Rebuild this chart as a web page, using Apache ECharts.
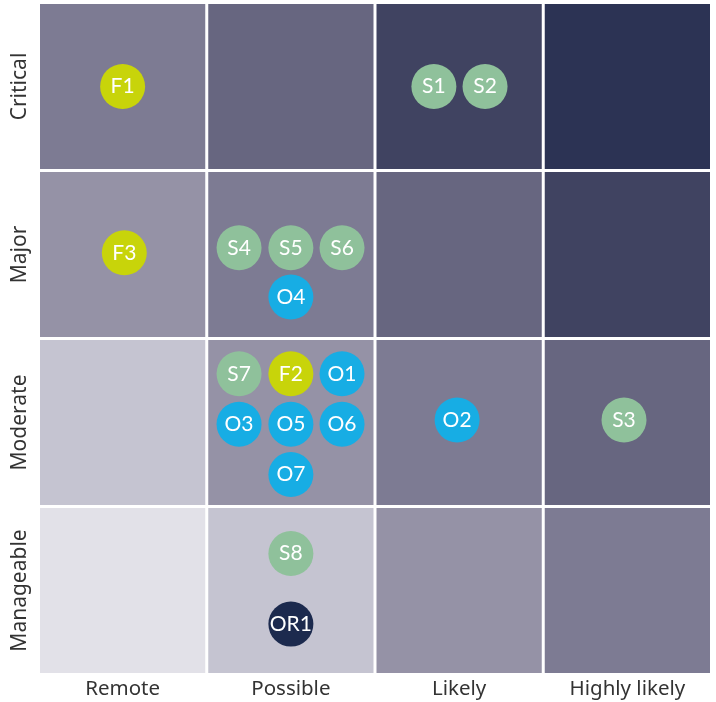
<!DOCTYPE html>
<html>
<head>
<meta charset="utf-8">
<script src="https://cdn.jsdelivr.net/npm/echarts@6/dist/echarts.min.js"></script>
<style>html,body{margin:0;padding:0;background:#fff}#c{width:716px;height:702px}</style>
</head>
<body>
<div id="c"></div>
<script>
const likelihood = ['Remote', 'Possible', 'Likely', 'Highly likely'];
const impact = ['Manageable', 'Moderate', 'Major', 'Critical'];
// cell shade level per [likelihood index, impact index]
const shades = ['#e2e1e8', '#c5c4d1', '#9592a6', '#7d7b93', '#676680', '#404361', '#2c3354'];
const cellLevels = [
  [0, 0, 0], [1, 0, 1], [2, 0, 2], [3, 0, 3],
  [0, 1, 1], [1, 1, 2], [2, 1, 3], [3, 1, 4],
  [0, 2, 2], [1, 2, 3], [2, 2, 4], [3, 2, 5],
  [0, 3, 3], [1, 3, 4], [2, 3, 5], [3, 3, 6]
];
// risks: [x, y, label]
const strategic = [
  [2.35, 3.5, 'S1'], [2.654, 3.5, 'S2'], [3.48, 1.515, 'S3'],
  [1.192, 2.54, 'S4'], [1.5, 2.54, 'S5'], [1.804, 2.54, 'S6'],
  [1.192, 1.79, 'S7'], [1.5, 0.72, 'S8']
];
const financial = [[0.5, 3.5, 'F1'], [1.5, 1.79, 'F2'], [0.51, 2.51, 'F3']];
const operational = [
  [1.804, 1.79, 'O1'], [2.488, 1.515, 'O2'], [1.192, 1.49, 'O3'],
  [1.5, 2.247, 'O4'], [1.5, 1.49, 'O5'], [1.804, 1.49, 'O6'], [1.5, 1.19, 'O7']
];
const other = [[1.5, 0.3, 'OR1']];

const labelStyle = {
  show: true, formatter: p => p.data[2], color: '#fff',
  fontSize: 21, fontFamily: 'Lato, "Noto Sans", sans-serif'
};
function pts(name, data, color) {
  return {
    name, type: 'scatter', xAxisIndex: 1, yAxisIndex: 1, data,
    symbolSize: 45, itemStyle: { color, opacity: 1 }, label: labelStyle, z: 5
  };
}
const chart = echarts.init(document.getElementById('c'));
chart.setOption({
  animation: false,
  grid: { left: 38.5, right: 4.5, top: 2.5, bottom: 27.5 },
  xAxis: [
    { type: 'category', data: likelihood, axisLine: { show: false }, axisTick: { show: false },
      axisLabel: { color: '#333', fontSize: 20.5, margin: 4, fontFamily: '"Noto Sans", sans-serif' } },
    { type: 'value', min: 0, max: 4, show: false }
  ],
  yAxis: [
    { type: 'category', data: impact, axisLine: { show: false }, axisTick: { show: false },
      axisLabel: { color: '#333', fontSize: 21, rotate: 90, margin: 8, fontFamily: '"Noto Sans", sans-serif' } },
    { type: 'value', min: 0, max: 4, show: false }
  ],
  series: [
    {
      type: 'custom', xAxisIndex: 0, yAxisIndex: 0, data: cellLevels, silent: true,
      renderItem: (params, api) => {
        const c = api.coord([api.value(0), api.value(1)]);
        const s = api.size([1, 1]);
        const g = 3;
        return {
          type: 'rect',
          shape: { x: c[0] - s[0] / 2 + g / 2, y: c[1] - s[1] / 2 + g / 2, width: s[0] - g, height: s[1] - g },
          style: { fill: shades[api.value(2)] }
        };
      }
    },
    pts('Strategic', strategic, '#8fc19b'),
    pts('Financial', financial, '#c8d40a'),
    pts('Operational', operational, '#17ade4'),
    pts('Other', other, '#1c2a4e')
  ]
});
</script>
</body>
</html>
